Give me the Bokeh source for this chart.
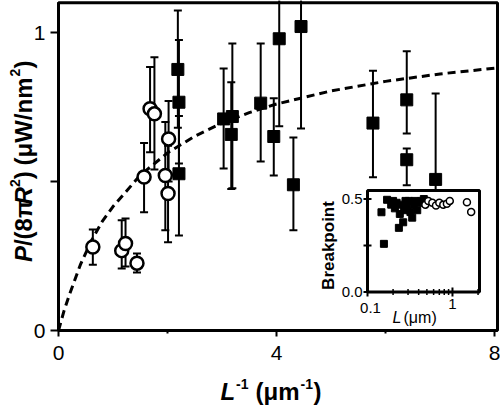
import math
from bokeh.plotting import figure
from bokeh.models import Range1d, LogScale, FixedTicker, Label, LinearAxis
from bokeh.embed import file_html
from bokeh.resources import INLINE

# ---------------- data ----------------
# open circles: x = L^-1 (um^-1), y = P/(8 pi R^2), error bar ends
circ_x = [0.63, 1.16, 1.23, 1.44, 1.57, 1.68, 1.76, 2.02, 1.96, 2.01]
circ_y = [0.28, 0.268, 0.292, 0.226, 0.515, 0.744, 0.727, 0.643, 0.52, 0.46]
circ_lo = [0.221, 0.208, 0.215, 0.195, 0.397, 0.598, 0.54, 0.50, 0.336, 0.296]
circ_hi = [0.339, 0.37, 0.376, 0.258, 0.629, 0.884, 0.917, 0.77, 0.70, 0.62]

# filled squares
sq_x = [2.19, 2.21, 2.21, 3.03, 3.19, 3.17, 3.71, 3.95, 4.05, 4.45, 4.31, 5.77, 6.39, 6.39, 6.92]
sq_y = [0.876, 0.766, 0.526, 0.71, 0.718, 0.658, 0.763, 0.651, 0.979, 1.02, 0.489, 0.696, 0.774, 0.573, 0.507]
sq_lo = [0.68, 0.56, 0.319, 0.544, 0.477, 0.475, 0.567, 0.52, 0.685, 0.678, 0.336, 0.514, 0.661, 0.487, 0.30]
sq_hi = [1.074, 0.975, 0.72, 0.879, 0.963, 0.833, 0.963, 0.779, 1.2, 1.25, 0.648, 0.872, 0.937, 0.611, 0.795]

# dashed fit curve
curve_x = [0, 0.1, 0.2, 0.4, 0.6, 0.8, 1.0, 1.5, 2.0, 2.5, 3.0, 3.5, 4.0, 5.0, 6.0, 7.0, 8.05]
curve_y = [0, 0.065, 0.12, 0.22, 0.30, 0.365, 0.416, 0.521, 0.596, 0.652, 0.696, 0.731, 0.760, 0.804, 0.836, 0.861, 0.881]

# inset: breakpoint vs L (um)
ins_sq_L = [0.146, 0.156, 0.17, 0.19, 0.2, 0.21, 0.22, 0.234, 0.24, 0.25, 0.263, 0.27,
            0.28, 0.29, 0.306, 0.32, 0.336, 0.35, 0.36, 0.385, 0.40, 0.43, 0.46]
ins_sq_b = [0.429, 0.259, 0.496, 0.47, 0.49, 0.45, 0.48, 0.345, 0.42, 0.47, 0.375, 0.44,
            0.49, 0.46, 0.49, 0.43, 0.40, 0.47, 0.49, 0.44, 0.48, 0.49, 0.50]
ins_ci_L = [0.48, 0.52, 0.58, 0.64, 0.70, 0.78, 0.86, 0.93, 1.48, 1.66]
ins_ci_b = [0.47, 0.49, 0.48, 0.465, 0.48, 0.47, 0.475, 0.49, 0.483, 0.43]

x_ticks = [0, 4, 8]
x_minor = [2, 6]
y_ticks = [0, 1]
y_minor = [0.5]
main_x_range = (0, 8.055)
main_y_range = (0, 1.1)
ins_x_range = (0.1, 2.08)
ins_y_range = (0.0, 0.546)
ins_y_ticks = [0, 0.25, 0.5]
ins_x_major = [0.1, 1]
ins_x_minor = [0.2, 0.3, 0.4, 0.5, 0.6, 0.7, 0.8, 0.9, 2]

FONT = "Liberation Sans"

# ---------------- geometry (canvas pixels, y from top) ----------------
W, H = 500, 405
X0_PX, X_PER = 58, 54.5      # x=0 position and px per unit
Y0_PX, Y_PER = 330, 298      # y=0 position and px per unit
INS_L, INS_R, INS_T, INS_B = 367, 479, 190, 291.5

xr = Range1d(-X0_PX / X_PER, (W - X0_PX) / X_PER)
yr = Range1d(-(H - Y0_PX) / Y_PER, Y0_PX / Y_PER)

p = figure(width=W, height=H, output_backend="svg", toolbar_location=None,
           x_range=xr, y_range=yr, x_axis_location=None, y_axis_location=None,
           min_border=0, min_border_left=0, min_border_right=0,
           min_border_top=0, min_border_bottom=0)
p.title.visible = False
p.grid.visible = False
p.background_fill_color = "white"
p.border_fill_color = "white"
p.outline_line_color = None

# frame box
p.quad(left=main_x_range[0], right=main_x_range[1], bottom=main_y_range[0], top=main_y_range[1],
       fill_color=None, line_color="black", line_width=3)

xax = LinearAxis(fixed_location=0, bounds=main_x_range,
                 ticker=FixedTicker(ticks=x_ticks, minor_ticks=x_minor))
yax = LinearAxis(fixed_location=0, bounds=main_y_range,
                 ticker=FixedTicker(ticks=y_ticks, minor_ticks=y_minor))
for ax in (xax, yax):
    ax.axis_line_width = 3
    ax.major_tick_line_width = 2
    ax.minor_tick_line_width = 2
    ax.major_tick_in = 0
    ax.minor_tick_in = 0
    ax.major_label_text_font = FONT
    ax.major_label_text_font_size = "21px"
    ax.major_label_text_color = "black"
xax.major_tick_out = 6
xax.minor_tick_out = 3
xax.major_label_standoff = 9
yax.major_tick_out = 8
yax.minor_tick_out = 8
yax.major_label_standoff = 5
p.add_layout(xax, "below")
p.add_layout(yax, "left")

# ---------------- main data ----------------
p.line(curve_x, curve_y, line_color="black", line_width=3, line_dash="8 5")

for xs, lo, hi in ((circ_x, circ_lo, circ_hi), (sq_x, sq_lo, sq_hi)):
    p.segment(x0=xs, y0=lo, x1=xs, y1=hi, line_color="black", line_width=2)
    p.scatter(xs, lo, marker="dash", size=8, line_color="black", line_width=2)
    p.scatter(xs, hi, marker="dash", size=8, line_color="black", line_width=2)

p.scatter(sq_x, sq_y, marker="square", size=12, fill_color="black", line_color="black")
p.scatter(circ_x, circ_y, marker="circle", size=13, fill_color="white",
          line_color="black", line_width=2.5)

# cover anything above the top of the frame box
p.quad(left=xr.start, right=xr.end, bottom=main_y_range[1] + 0.006, top=yr.end,
       fill_color="white", line_color=None)

# ---------------- inset (drawn through its own scales) ----------------
lx0, lx1 = math.log10(ins_x_range[0]), math.log10(ins_x_range[1])
kx = (lx1 - lx0) / (INS_R - INS_L)
ky = (ins_y_range[1] - ins_y_range[0]) / (INS_B - INS_T)
p.extra_x_ranges = {"ix": Range1d(10 ** (lx0 - INS_L * kx), 10 ** (lx1 + (W - INS_R) * kx))}
p.extra_x_scales = {"ix": LogScale()}
p.extra_y_ranges = {"iy": Range1d(ins_y_range[0] - (H - INS_B) * ky, ins_y_range[1] + INS_T * ky)}

p.quad(left=ins_x_range[0], right=ins_x_range[1], bottom=ins_y_range[0], top=ins_y_range[1],
       x_range_name="ix", y_range_name="iy", fill_color="white", line_color="black", line_width=3)
p.scatter([ins_x_range[0]] * len(ins_y_ticks), ins_y_ticks, marker="dash", size=8,
          line_color="black", line_width=2, x_range_name="ix", y_range_name="iy")
p.scatter(ins_x_minor, [ins_y_range[0]] * len(ins_x_minor), marker="dash", angle=math.pi / 2,
          size=6, line_color="black", line_width=1.5, x_range_name="ix", y_range_name="iy")
p.scatter(ins_x_major, [ins_y_range[0]] * len(ins_x_major), marker="dash", angle=math.pi / 2,
          size=9, line_color="black", line_width=2, x_range_name="ix", y_range_name="iy")
p.scatter(ins_sq_L, ins_sq_b, marker="square", size=7, fill_color="black", line_color="black",
          x_range_name="ix", y_range_name="iy")
p.scatter(ins_ci_L, ins_ci_b, marker="circle", size=7, fill_color="white", line_color="black",
          line_width=1.5, x_range_name="ix", y_range_name="iy")


# ---------------- texts (canvas px: x from left, y from top) ----------------
def lab(text, x_img, y_img, size, style="normal", align="left", baseline="alphabetic", angle=0.0):
    p.add_layout(Label(x=x_img, y=H - y_img, x_units="screen", y_units="screen", text=text,
                       text_font=FONT, text_font_size=f"{size}px", text_font_style=style,
                       text_align=align, text_baseline=baseline, text_color="black",
                       angle=angle))

# x axis label: L^-1 (um^-1)
lab("L", 220, 391, 24, "bold italic")
lab("-1", 235.5, 383, 14, "bold")
lab("(\u03bcm", 255, 391, 24, "bold")
lab("-1", 300, 383, 14, "bold")
lab(")", 313, 391, 24, "bold")

# y axis label: P/(8 pi R^2) (uW/nm^2)
R90 = math.pi / 2
bx, sx = 23, 14
lab("P", bx, 261.6, 24, "bold italic", angle=R90)
lab("/(8\u03c0", bx, 245.6, 24, "bold", angle=R90)
lab("R", bx, 203.9, 24, "bold italic", angle=R90)
lab("2", sx, 186.6, 14, "bold", angle=R90)
lab(")", bx, 178.8, 24, "bold", angle=R90)
lab("(\u03bcW/nm", bx, 165, 24, "bold", angle=R90)
lab("2", sx, 76, 14, "bold", angle=R90)
lab(")", bx, 68, 24, "bold", angle=R90)

# inset texts
lab("0.5", 362, 198.5, 15, align="right", baseline="middle")
lab("0.0", 362, 291.5, 15, align="right", baseline="middle")
lab("0.1", 370, 307, 15, align="center")
lab("1", 452, 303, 15, align="center")
lab("L", 392, 317, 16, "italic")
lab("(\u03bcm)", 403, 317, 16)
lab("Breakpoint", 328, 245, 17, "bold", align="center", angle=R90)

open("out.html", "w").write(file_html(p, INLINE))
